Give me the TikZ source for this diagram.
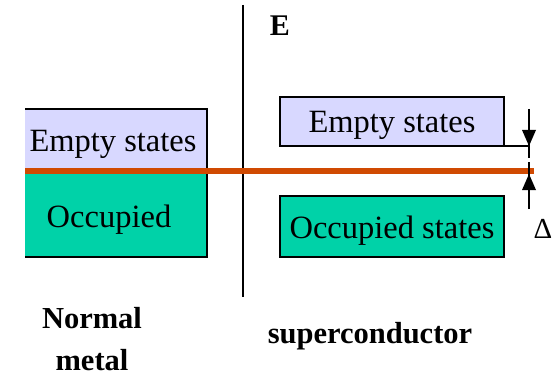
\documentclass[tikz,border=0pt]{standalone}
\usepackage{fontspec}
\setmainfont{LiberationSerif}[Extension=.ttf,UprightFont=*-Regular,BoldFont=*-Bold,ItalicFont=*-Italic,BoldItalicFont=*-BoldItalic]
\usepackage{tikz}
\usetikzlibrary{arrows.meta}
\definecolor{lav}{HTML}{D8D8FF}
\definecolor{teal2}{HTML}{00D2A8}
\definecolor{fermi}{HTML}{D04A02}
\tikzset{
  box/.style={draw=black,line width=2.2pt,inner sep=0pt,outer sep=0pt,text height=23pt,text depth=0pt},
  lbl/.style={font=\rmfamily\fontsize{32.5}{36}\selectfont},
  blbl/.style={font=\rmfamily\fontsize{30.5}{42}\selectfont\bfseries,align=center,inner sep=0pt},
  shaft/.style={line width=2.5pt},
  headfill/.style={fill=black}
}
\begin{document}
\begin{tikzpicture}[x=1pt,y=-1pt]
\useasboundingbox (0,0) rectangle (557,377);
% left box (normal metal)
\fill[lav] (25,109) rectangle (207,171);
\fill[teal2] (25,171) rectangle (207,257);
\draw[line width=2.2pt] (25,109) -- (207,109) -- (207,257) -- (25,257);
\node[lbl,anchor=base] (lempty) at (113,152) {Empty states};
\node[lbl,anchor=base] (locc) at (109,227) {Occupied};
% vertical separator
\coordinate (vtop) at (243,5);
\coordinate (vbot) at (243,297);
\draw[line width=1.8pt] (vtop) -- (vbot);
\node[font=\rmfamily\fontsize{30}{32}\selectfont\bfseries,anchor=base] (E) at (280,36) {E};
% superconductor boxes
\node[box,fill=lav,minimum width=224pt,minimum height=49pt,lbl] (rempty) at (392,121.5) {Empty states};
\node[box,fill=teal2,minimum width=224pt,minimum height=61pt,lbl] (rocc) at (392,226.5) {Occupied states};
% Fermi level
\coordinate (fl) at (25,171);
\coordinate (fr) at (534,171);
\draw[fermi,line width=6pt] (fl) -- (fr);
% gap arrows
\coordinate (gt) at (529,146);
\coordinate (gtop) at (529,109);
\coordinate (gb) at (529,174);
\coordinate (gbot) at (529,209);
\draw[line width=1.2pt] (rempty.south east) -- (gt);
\draw[shaft] (gtop) -- ([yshift=-12pt]gt);
\fill[headfill] (gt) -- ++(-7,-16) -- ++(14,0) -- cycle;
\draw[shaft] (gbot) -- ([yshift=12pt]gb);
\fill[headfill] (gb) -- ++(-7,16) -- ++(14,0) -- cycle;
\node[font=\rmfamily\fontsize{29}{30}\selectfont,anchor=base] (delta) at (543,238) {Δ};
% labels
\node[blbl,anchor=base] (normal) at (92,370) {Normal\\metal};
\node[blbl,anchor=base] (sc) at (370,343) {superconductor};
\end{tikzpicture}
\end{document}
